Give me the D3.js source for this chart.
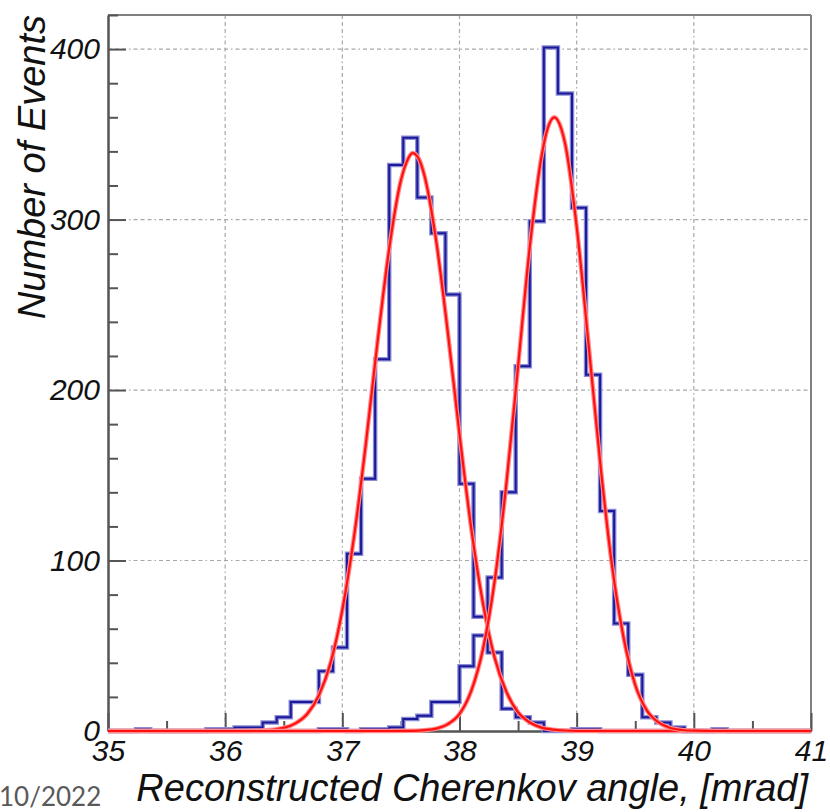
<!DOCTYPE html>
<html>
<head>
<meta charset="utf-8">
<script src="https://cdn.jsdelivr.net/npm/d3@7/dist/d3.min.js"></script>
<style>
  html, body { margin: 0; padding: 0; background: #ffffff; }
  svg { display: block; }
  text { font-family: "Liberation Sans", Arial, sans-serif; }
</style>
</head>
<body>
<svg id="chart" width="830" height="812"></svg>
<script>
// ---------------- data ----------------
const xTicks = [35, 36, 37, 38, 39, 40, 41];
const yTicks = [0, 100, 200, 300, 400];
const binLow = 35;
const binWidth = 0.12;

// histogram 1 (lower angle peak), 50 bins of 0.12 mrad from 35 to 41
const hist1Counts = [
  0, 0, 1, 0, 0, 0, 0, 1, 1, 2,
  2, 5, 8, 17, 17, 35, 49, 104, 148, 218,
  332, 348, 313, 292, 256, 145, 67, 46, 13, 8,
  5, 0, 0, 1, 1, 0, 0, 0, 0, 0,
  0, 0, 0, 0, 0, 0, 0, 0, 0, 0
];
// histogram 2 (higher angle peak)
const hist2Counts = [
  0, 0, 0, 0, 0, 0, 0, 0, 0, 0,
  0, 0, 0, 0, 0, 1, 1, 0, 1, 1,
  2, 7, 9, 17, 17, 38, 56, 90, 140, 214,
  299, 401, 374, 307, 209, 129, 63, 33, 8, 5,
  2, 0, 0, 1, 0, 0, 0, 0, 0, 0
];

// fitted curves
const fit1X = [35, 36.1, 36.3, 36.4, 36.5, 36.6, 36.7, 36.8, 36.9, 37.0, 37.1, 37.2, 37.3, 37.4, 37.5, 37.55, 37.6, 37.65, 37.7, 37.8, 37.9, 38.0, 38.1, 38.2, 38.3, 38.4, 38.5, 38.6, 38.7, 38.8, 38.9, 39.1, 41];
const fit1Y = [0, 0, 0.2, 0.7, 1.8, 4.5, 10, 21, 40, 71, 114, 168, 228, 283, 323, 334, 339, 336, 326, 288, 234, 174, 119, 75, 43, 23, 11, 5, 2, 0.8, 0.3, 0, 0];
const fit2X = [35, 37.4, 37.6, 37.7, 37.8, 37.9, 38.0, 38.1, 38.2, 38.3, 38.4, 38.5, 38.6, 38.7, 38.75, 38.81, 38.87, 38.9, 39.0, 39.1, 39.2, 39.3, 39.4, 39.5, 39.6, 39.7, 39.8, 39.9, 40.0, 40.2, 41];
const fit2Y = [0, 0, 0.1, 0.5, 1.4, 4, 10, 23.5, 48, 88, 145, 214, 284, 337, 353, 360, 353, 345, 296, 228, 158, 98, 55, 27, 12, 5, 1.8, 0.6, 0.2, 0, 0];

const xTitle = "Reconstructed Cherenkov angle, [mrad]";
const yTitle = "Number of Events";
const footer = "10/2022";

// ---------------- drawing ----------------
const svg = d3.select("#chart");
const L = 108, R = 811, T = 15, B = 731;
const x = d3.scaleLinear().domain([35, 41]).range([L, R]);
const y = d3.scaleLinear().domain([0, 420]).range([B, T]);

// grid
const gridDash = "4,3,4,3,4,3,1.5,3";
const grid = svg.append("g");
grid.selectAll("line.gx").data(xTicks.filter(d => d > 35 && d < 41)).enter()
  .append("line")
  .attr("x1", d => x(d)).attr("x2", d => x(d))
  .attr("y1", T).attr("y2", B)
  .attr("stroke", "#a8a8a8").attr("stroke-width", 1.2)
  .attr("stroke-dasharray", gridDash);
grid.selectAll("line.gy").data(yTicks.filter(d => d > 0)).enter()
  .append("line")
  .attr("x1", L).attr("x2", R)
  .attr("y1", d => y(d)).attr("y2", d => y(d))
  .attr("stroke", "#a8a8a8").attr("stroke-width", 1.2)
  .attr("stroke-dasharray", gridDash);

// frame (top / right)
svg.append("line").attr("x1", L).attr("x2", R).attr("y1", T).attr("y2", T)
  .attr("stroke", "#808080").attr("stroke-width", 2);
svg.append("line").attr("x1", R).attr("x2", R).attr("y1", T).attr("y2", B)
  .attr("stroke", "#808080").attr("stroke-width", 2);

// axes
const axisColor = "#555";
const yAxis = svg.append("g").attr("transform", `translate(${L},0)`)
  .call(d3.axisLeft(y).tickValues(yTicks).tickSize(-18).tickSizeOuter(0).tickPadding(8));
const yMinor = svg.append("g").attr("transform", `translate(${L},0)`)
  .call(d3.axisLeft(y).tickValues(d3.range(0, 421, 20).filter(v => v % 100 !== 0)).tickSize(-10).tickSizeOuter(0).tickFormat(""));
const xAxis = svg.append("g").attr("transform", `translate(0,${B})`)
  .call(d3.axisBottom(x).tickValues(xTicks).tickSize(-18).tickSizeOuter(0).tickPadding(9).tickFormat(d3.format("d")));
const xMinor = svg.append("g").attr("transform", `translate(0,${B})`)
  .call(d3.axisBottom(x).tickValues([35.5, 36.5, 37.5, 38.5, 39.5, 40.5]).tickSize(-10).tickSizeOuter(0).tickFormat(""));

[yAxis, yMinor, xAxis, xMinor].forEach(g => {
  g.select(".domain").attr("stroke", axisColor).attr("stroke-width", 2);
  g.selectAll(".tick line").attr("stroke", axisColor).attr("stroke-width", 2);
  g.selectAll(".tick text")
    .attr("fill", "#111")
    .style("font-size", "30px")
    .style("font-style", "italic")
    .style("font-family", "'Liberation Sans', Arial, sans-serif");
});

// histograms
function histPoints(counts) {
  const pts = counts.map((c, i) => [binLow + i * binWidth, c]);
  pts.push([binLow + counts.length * binWidth, counts[counts.length - 1]]);
  return pts;
}
const stepLine = d3.line().x(d => x(d[0])).y(d => y(d[1])).curve(d3.curveStepAfter);
[hist1Counts, hist2Counts].forEach(counts => {
  const pts = histPoints(counts);
  svg.append("path").attr("d", stepLine(pts))
    .attr("fill", "none").attr("stroke", "#8a8ad6").attr("stroke-width", 4.5)
    .attr("stroke-linejoin", "miter");
  svg.append("path").attr("d", stepLine(pts))
    .attr("fill", "none").attr("stroke", "#1a1a98").attr("stroke-width", 2)
    .attr("stroke-linejoin", "miter");
});

// fits
const fitLine = d3.line().x(d => x(d[0])).y(d => y(d[1])).curve(d3.curveMonotoneX);
[[fit1X, fit1Y], [fit2X, fit2Y]].forEach(([xs, ys]) => {
  const pts = xs.map((v, i) => [v, ys[i]]);
  svg.append("path").attr("d", fitLine(pts))
    .attr("fill", "none").attr("stroke", "#ff8c8c").attr("stroke-width", 4.5);
  svg.append("path").attr("d", fitLine(pts))
    .attr("fill", "none").attr("stroke", "#ff1010").attr("stroke-width", 2.2);
});

// titles
svg.append("text")
  .attr("x", 808).attr("y", 801)
  .attr("text-anchor", "end")
  .style("font-size", "38px").style("font-style", "italic")
  .attr("fill", "#111")
  .text(xTitle);
svg.append("text")
  .attr("transform", "translate(45,15) rotate(-90)")
  .attr("text-anchor", "end")
  .style("font-size", "38px").style("font-style", "italic")
  .attr("fill", "#111")
  .text(yTitle);
svg.append("text")
  .attr("x", -1).attr("y", 806)
  .style("font-family", "Lato, 'Open Sans', sans-serif")
  .style("font-size", "26px")
  .attr("fill", "#595959")
  .text(footer);
</script>
</body>
</html>
